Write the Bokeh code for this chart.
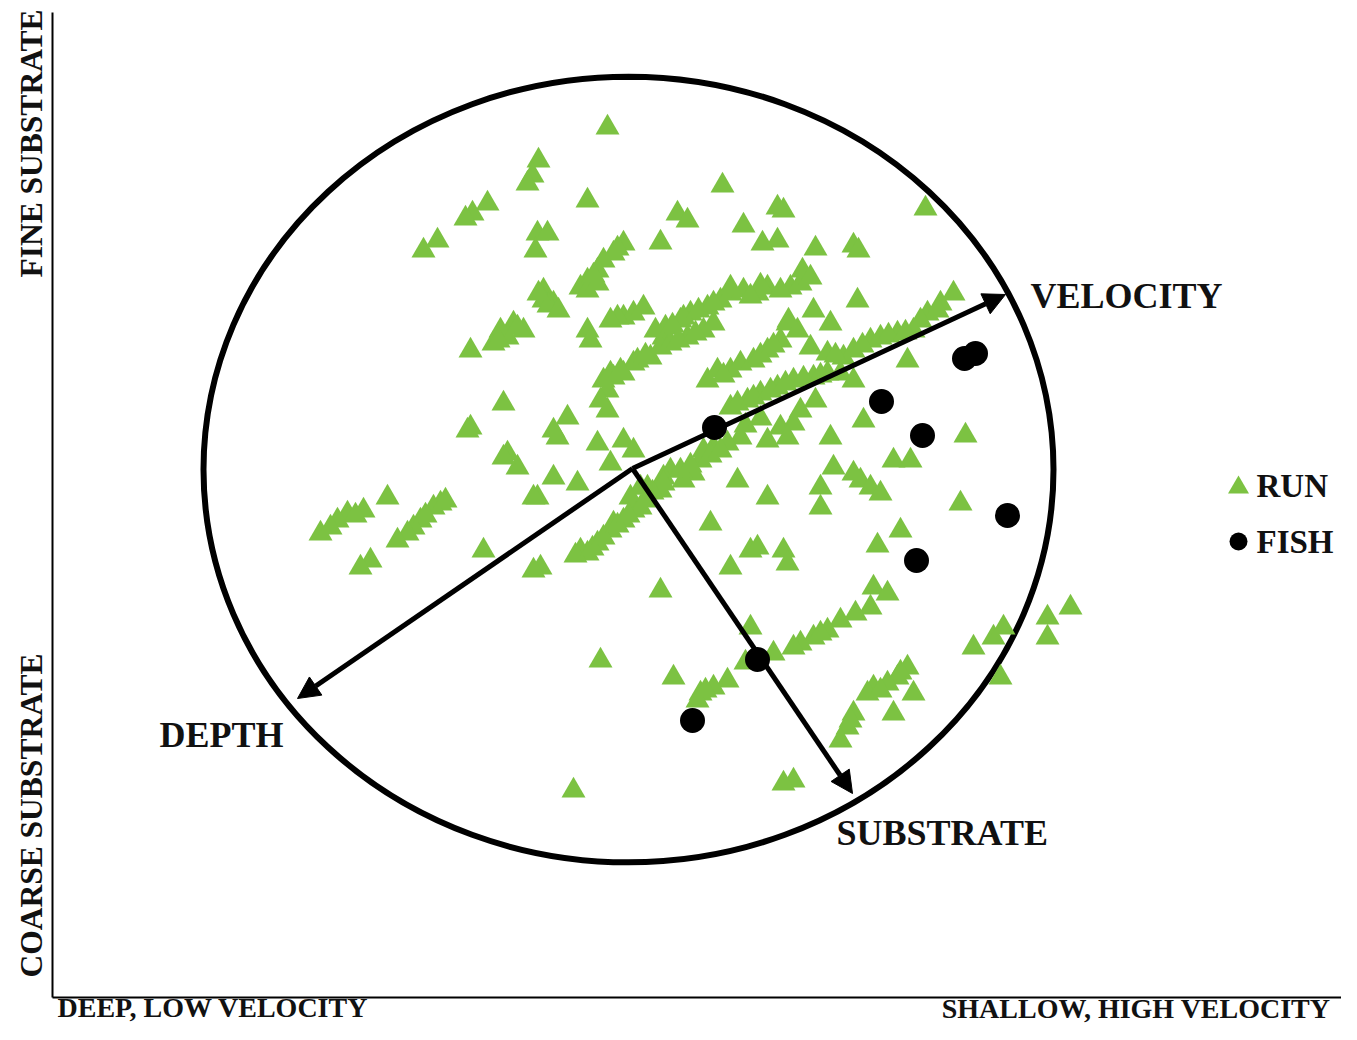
from bokeh.plotting import figure
from bokeh.models import Range1d, ColumnDataSource, Arrow, NormalHead
from bokeh.core.properties import value
from bokeh.embed import file_html
from bokeh.resources import INLINE

# ---- data (ordination scores, arbitrary units) ----
RUN_PC1 = [-0.21, -0.90, -0.96, -1.01, -1.41, -1.56, -1.63, -1.91, -2.05, -0.41,
           -0.91, -0.81, -0.93, 0.49, 0.59, 0.32, -0.05, -0.15, -0.25, -0.31,
           -0.41, -0.48, -0.85, -0.85, -0.75, -0.41, -0.31, -1.15, -1.05, -1.21,
           -1.35, -1.58, -0.05, 0.05, -0.41, -0.38, -0.15, -0.21, -0.21, -0.05,
           0.05, -1.25, -1.58, -1.61, -0.61, -0.71, -0.75, -0.31, -0.05, -1.21,
           -1.11, -0.75, -0.51, -0.18, -0.91, -2.41, -2.65, -2.81, -2.91, -3.08,
           -1.88, -1.95, -2.08, -2.15, -2.21, -2.31, -2.58, -2.68, -1.45, -0.88,
           -0.95, -0.41, -0.31, -0.18, -0.05, 0.05, 0.02, 0.12, -0.11, 0.15,
           0.35, 0.52, 0.62, 0.79, 0.92, 1.02, 1.15, 1.29, 1.39, 1.62,
           1.72, -0.25, -0.18, 0.09, 0.22, 0.32, 0.42, 0.59, 0.75, 0.85,
           -0.28, 0.79, 0.89, 1.02, 1.12, 1.25, 1.39, 1.52, 1.59, 1.69,
           1.85, 2.02, 2.29, 1.82, 1.99, 2.15, 2.25, 2.42, 2.52, 2.69,
           2.85, 2.99, 3.12, 3.25, 2.79, 1.02, 1.19, 1.32, 1.49, 1.65,
           1.85, 1.99, 2.12, 2.25, 1.52, 1.65, 1.39, 1.59, 1.12, 0.99,
           0.85, 2.35, 2.02, 0.72, 0.65, 0.55, 0.75, 0.42, 0.35, 0.32,
           0.05, 1.09, 1.39, 1.92, 2.05, 2.32, 2.42, 2.52, 2.65, 2.82,
           2.25, 1.92, 0.19, 0.12, 3.37, 3.32, 0.82, 1.22, 1.29, 1.55,
           1.59, 1.02, 0.32, 2.72, 2.49, 2.45, 2.59, 2.42, 2.12, 1.99,
           1.85, 1.72, 1.65, 1.45, 1.22, 0.99, 0.85, 0.72, 0.69, 0.45,
           2.79, 2.69, 2.59, 2.45, 2.39, 2.85, 2.65, 2.25, 2.19, 2.12,
           1.65, 1.55, 3.45, 3.65, 3.75, 4.19, 4.19, 4.42, 3.72, -1.25,
           -0.95, -0.48, -0.15, 0.35, -0.28, -0.55, 0.94, 1.15, 1.55, 1.49,
           1.34, 1.87, 1.74, 1.82, 2.25, 2.30, 2.97, 1.02, 1.32, 0.55,
           0.37, 1.60, 3.09, 1.49, -0.80, -1.28, -0.18, -0.53,
           -0.35, -0.11, -0.08, 0.17, 0.50, 0.67, 0.27, 0.44, 0.70, 0.85,
           1.22, 1.52, 0.95, 1.32, 1.45, 1.09, 1.25, 1.42, 1.57, 1.75,
           1.92, 2.07, 2.34, 2.60, 2.77, 2.92, -0.36, -0.25, -0.11, 0.00,
           0.17, 0.24, 0.52, 0.62, 0.82, 0.92, 1.17, 1.32, 1.72, 1.87,
           -2.98, -2.73, -2.03, -1.83, -1.11, -1.30, -0.90, -0.70, 1.92, 2.27,
           0.77, 1.17, 2.72, 2.52, 2.22]
RUN_PC2 = [3.42, 3.09, 2.94, 2.86, 2.66, 2.56, 2.51, 2.29, 2.19, 2.69,
           2.36, 2.36, 2.19, 2.56, 2.49, 2.27, 2.26, 2.16, 2.09, 1.99,
           1.89, 1.82, 1.79, 1.69, 1.66, 1.79, 1.86, 1.46, 1.39, 1.32,
           1.26, 1.19, 1.52, 1.56, 1.39, 1.29, 0.92, 0.79, 0.59, 0.96,
           1.06, 0.66, 0.42, 0.39, 0.52, 0.32, 0.39, 0.26, 0.29, 0.16,
           0.02, -0.08, -0.14, 0.06, -0.28, -0.28, -0.41, -0.44, -0.51, -0.64,
           -0.34, -0.38, -0.51, -0.58, -0.64, -0.71, -0.91, -0.98, -0.81, -0.98,
           -1.01, -0.84, -0.74, -0.61, -0.51, -0.41, -0.28, -0.18, 1.52, 1.62,
           1.32, 1.49, 1.56, 1.62, 1.69, 1.76, 1.79, 1.76, 1.82, 1.82,
           1.86, 0.89, 0.96, 1.09, 1.12, 1.22, 1.26, 1.32, 1.39, 1.46,
           0.69, 0.89, 0.99, 0.99, 1.06, 1.09, 1.19, 1.29, 1.46, 1.39,
           1.59, 1.46, 1.69, 1.22, 1.16, 1.12, 1.19, 1.29, 1.32, 1.36,
           1.39, 1.56, 1.66, 1.76, 1.09, 0.62, 0.69, 0.76, 0.82, 0.89,
           0.92, 0.96, 0.96, 0.89, 0.42, 0.46, 0.29, 0.32, 0.32, 0.26,
           0.22, 0.49, 0.32, 0.09, -0.04, -0.11, 0.19, -0.01, -0.08, -0.21,
           0.19, -0.11, -0.28, -0.18, 0.02, -0.11, -0.18, -0.24, 0.09, 0.09,
           -0.04, -0.38, -0.18, -0.38, 0.34, -0.34, -0.54, -0.81, -0.78, -0.81,
           -0.94, -0.98, -1.21, -0.61, -0.76, -1.18, -1.24, -1.38, -1.51, -1.61,
           -1.68, -1.74, -1.78, -1.84, -1.58, -2.11, -2.18, -2.24, -2.31, -2.08,
           -1.98, -2.08, -2.14, -2.18, -2.24, -2.24, -2.44, -2.44, -2.58, -2.71,
           -3.11, -3.14, -1.78, -1.68, -1.58, -1.48, -1.68, -1.38, -2.08, 0.12,
           -0.28, -0.81, -0.54, -0.14, -1.91, -3.21, 2.84, 2.44, 2.59, 2.29,
           2.26, 2.21, 1.99, 1.92, 2.24, 2.19, 2.61, 1.82, 1.84, 1.52,
           1.42, 1.49, 1.59, 2.62, 1.64, 1.39, 1.49, -0.86,
           1.94, 2.21, 0.99, 1.14, 1.29, 1.36, 1.39, 1.44, 1.59, 1.66,
           1.73, 1.79, 0.94, 1.14, 1.24, 0.66, 0.72, 0.79, 0.86, 0.91,
           0.94, 1.14, 1.24, 1.34, 1.37, 1.49, -0.79, -0.68, -0.56, -0.46,
           -0.31, -0.23, -0.01, 0.04, 0.14, 0.19, 0.44, 0.51, 0.59, 0.69,
           -0.58, -0.46, -0.46, -0.31, 1.42, 1.29, 1.76, 1.59, -1.64, -1.44,
           -2.21, -1.93, -2.03, -2.21, -2.51]

FISH_PC1 = [0.86, 2.53, 2.94, 3.36, 3.47, 3.79, 2.88, 1.29, 0.64]
FISH_PC2 = [0.42, 0.68, 0.34, 1.11, 1.16, -0.46, -0.91, -1.90, -2.51]

VECTOR_NAMES = ["VELOCITY", "DEPTH", "SUBSTRATE"]
VECTOR_ORIGIN = (0.04, 0.01)
VECTOR_PC1 = [3.77, -3.31, 2.24]
VECTOR_PC2 = [1.75, -2.29, -3.24]

CIRCLE_WIDTH = 8.5
CIRCLE_HEIGHT = 7.86

LEGEND_LABELS = ["RUN", "FISH"]
X_AXIS_LABELS = ["DEEP, LOW VELOCITY", "SHALLOW, HIGH VELOCITY"]
Y_AXIS_LABELS = ["FINE SUBSTRATE", "COARSE SUBSTRATE"]

GREEN = "#7CC242"
INK = "#111111"
FONT = value("Liberation Serif")

p = figure(width=1341, height=1024, output_backend="svg", toolbar_location=None,
           x_range=Range1d(-6.28, 7.13), y_range=Range1d(-5.55, 4.69),
           min_border=0, outline_line_color=None)
p.axis.visible = False
p.grid.visible = False
p.background_fill_color = "white"

# frame lines (left and bottom)
p.segment(x0=[-5.76, -5.76], y0=[4.57, -5.28], x1=[-5.76, 7.19], y1=[-5.28, -5.28],
          line_color="black", line_width=2)

# correlation circle
p.ellipse(x=[0], y=[0], width=[CIRCLE_WIDTH], height=[CIRCLE_HEIGHT],
          fill_color=None, line_color="black", line_width=6)

# run points
p.scatter(RUN_PC1, RUN_PC2, marker="triangle", size=24, fill_color=GREEN,
          line_color=None)

# vectors
vsrc = ColumnDataSource(dict(x0=[VECTOR_ORIGIN[0]] * 3, y0=[VECTOR_ORIGIN[1]] * 3,
                             x1=VECTOR_PC1, y1=VECTOR_PC2))
p.add_layout(Arrow(end=NormalHead(size=22, fill_color="black", line_color="black",
                                  line_width=1),
                   x_start="x0", y_start="y0", x_end="x1", y_end="y1",
                   source=vsrc, line_width=5, line_color="black"))

# fish points
p.scatter(FISH_PC1, FISH_PC2, marker="circle", size=25, fill_color="black",
          line_color=None)

# vector labels
p.text(x=[4.02], y=[1.74], text=[VECTOR_NAMES[0]], text_font=FONT,
       text_font_style="bold", text_font_size="36px", text_align="left",
       text_baseline="middle", text_color=INK)
p.text(x=[-4.07], y=[-2.65], text=[VECTOR_NAMES[1]], text_font=FONT,
       text_font_style="bold", text_font_size="36px", text_align="center",
       text_baseline="middle", text_color=INK)
p.text(x=[2.08], y=[-3.63], text=[VECTOR_NAMES[2]], text_font=FONT,
       text_font_style="bold", text_font_size="36px", text_align="left",
       text_baseline="middle", text_color=INK)

# axis end labels
p.text(x=[-5.71], y=[-5.53], text=[X_AXIS_LABELS[0]], text_font=FONT,
       text_font_style="bold", text_font_size="28px", text_align="left",
       text_baseline="bottom", text_color=INK)
p.text(x=[7.02], y=[-5.54], text=[X_AXIS_LABELS[1]], text_font=FONT,
       text_font_style="bold", text_font_size="28px", text_align="right",
       text_baseline="bottom", text_color=INK)
p.text(x=[-5.97, -5.97], y=[3.26, -3.46], text=Y_AXIS_LABELS, angle=1.5708,
       text_font=FONT, text_font_style="bold", text_font_size="31.5px",
       text_align="center", text_baseline="middle", text_color=INK)

# legend
p.scatter([6.10], [-0.18], marker="triangle", size=21, fill_color=GREEN, line_color=None)
p.scatter([6.10], [-0.72], marker="circle", size=18, fill_color="black", line_color=None)
p.text(x=[6.28, 6.28], y=[-0.16, -0.72], text=LEGEND_LABELS, text_font=FONT,
       text_font_style="bold", text_font_size="33px", text_align="left",
       text_baseline="middle", text_color=INK)

open("out.html", "w").write(file_html(p, INLINE))
